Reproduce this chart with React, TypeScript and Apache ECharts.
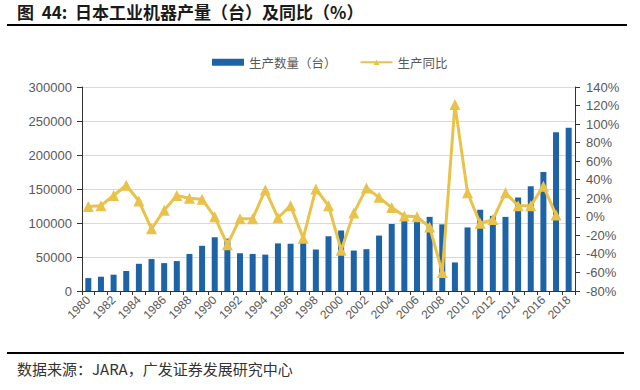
import React, { useEffect, useRef } from "react";
import * as echarts from "echarts";

const years = [
  "1980", "1981", "1982", "1983", "1984", "1985", "1986", "1987", "1988", "1989",
  "1990", "1991", "1992", "1993", "1994", "1995", "1996", "1997", "1998", "1999",
  "2000", "2001", "2002", "2003", "2004", "2005", "2006", "2007", "2008", "2009",
  "2010", "2011", "2012", "2013", "2014", "2015", "2016", "2017", "2018",
];

const production = [
  19000, 21000, 24000, 29500, 40000, 47000, 41000, 44000, 54500, 66500,
  79000, 77000, 55500, 54500, 53500, 70000, 69500, 74000, 61000, 80500,
  89000, 59500, 61500, 81500, 98500, 104500, 104000, 109000, 98000, 42000,
  93500, 119500, 110500, 109000, 137500, 154000, 175000, 233500, 240000,
];

const yoy: (number | null)[] = [
  11, 12, 23, 34, 17, -13, 7, 23, 20, 19,
  0, -30, -2, -2, 29, -1, 12, -23, 30, 12,
  -36, 4, 31, 21, 10, 1, 0, -11, -60, 121,
  26, -7, -3, 26, 12, 12, 33, 2, null,
];

const titleText = "图  44:  日本工业机器产量（台）及同比（%）";
const sourceText = "数据来源：JARA，广发证券发展研究中心";
const seriesNames = ["生产数量（台）", "生产同比"];

const BLUE = "#1d63a6";
const GOLD = "#e9c24a";
const CJK = "'Noto Sans CJK SC', 'Liberation Sans', sans-serif";
const LATIN = "'Liberation Sans', Arial, sans-serif";

export default function App() {
  const ref = useRef<HTMLDivElement>(null);

  useEffect(() => {
    if (!ref.current) return;
    const chart = echarts.init(ref.current, null, { renderer: "svg" });
    chart.setOption({
      animation: false,
      backgroundColor: "#ffffff",
      grid: { left: 82, right: 65, top: 87, bottom: 99, containLabel: false },
      legend: {
        left: 207,
        top: 51,
        itemWidth: 32,
        itemHeight: 7,
        itemGap: 23,
        textStyle: { fontFamily: CJK, fontSize: 12.5, color: "#595959" },
        data: [
          { name: seriesNames[0], icon: "rect" },
          { name: seriesNames[1] },
        ],
      },
      xAxis: {
        type: "category",
        data: years,
        boundaryGap: true,
        axisLine: { lineStyle: { color: "#333333", width: 1 } },
        axisTick: { show: true, interval: 0, length: 4, lineStyle: { color: "#333333" } },
        axisLabel: {
          interval: 1,
          rotate: 45,
          margin: 7,
          fontFamily: LATIN,
          fontSize: 12,
          color: "#595959",
        },
      },
      yAxis: [
        {
          type: "value",
          min: 0,
          max: 300000,
          interval: 50000,
          axisLine: { show: true, lineStyle: { color: "#333333" } },
          axisTick: { show: true, length: 5, lineStyle: { color: "#333333" } },
          axisLabel: {
            margin: 10,
            fontFamily: LATIN,
            fontSize: 13,
            color: "#595959",
            formatter: (v: number) => String(v),
          },
          splitLine: { show: true, lineStyle: { color: "#d9d9d9", width: 1 } },
        },
        {
          type: "value",
          min: -80,
          max: 140,
          interval: 20,
          position: "right",
          axisLine: { show: true, lineStyle: { color: "#333333" } },
          axisTick: { show: true, length: 5, lineStyle: { color: "#333333" } },
          axisLabel: {
            margin: 11,
            fontFamily: LATIN,
            fontSize: 13,
            color: "#595959",
            formatter: "{value}%",
          },
          splitLine: { show: false },
        },
      ],
      series: [
        {
          name: seriesNames[0],
          type: "bar",
          data: production,
          barWidth: 6,
          itemStyle: { color: BLUE },
          yAxisIndex: 0,
          z: 2,
        },
        {
          name: seriesNames[1],
          type: "line",
          data: yoy,
          yAxisIndex: 1,
          symbol: "triangle",
          symbolSize: 11,
          showAllSymbol: true,
          lineStyle: { color: GOLD, width: 3 },
          itemStyle: { color: GOLD },
          connectNulls: false,
          z: 3,
        },
      ],
      graphic: [
        {
          type: "text",
          left: 17,
          top: 3,
          style: {
            text: titleText,
            font: `bold 17px ${CJK}`,
            fill: "#1a1a1a",
          },
        },
        {
          type: "line",
          shape: { x1: 7, y1: 25, x2: 627, y2: 25 },
          style: { stroke: "#000000", lineWidth: 2 },
        },
        {
          type: "line",
          shape: { x1: 7, y1: 353, x2: 624, y2: 353 },
          style: { stroke: "#000000", lineWidth: 2 },
        },
        {
          type: "text",
          left: 17,
          top: 361,
          style: {
            text: sourceText,
            font: `15px ${CJK}`,
            fill: "#333333",
          },
        },
      ],
    });
    return () => chart.dispose();
  }, []);

  return (
    <div
      ref={ref}
      style={{ position: "fixed", left: 0, top: 0, width: 640, height: 390 }}
    />
  );
}
